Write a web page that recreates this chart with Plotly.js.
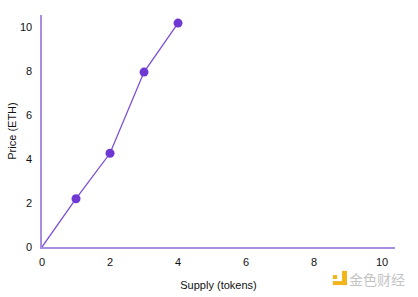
<!DOCTYPE html>
<html>
<head>
<meta charset="utf-8">
<script src="https://cdn.plot.ly/plotly-3.0.1.min.js"></script>
<style>html,body{margin:0;padding:0;background:#fff;}#chart{width:418px;height:297px;}</style>
</head>
<body>
<div id="chart"></div>
<script>
var supply = [0, 1, 2, 3, 4];
var price = [0, 2.2, 4.27, 7.97, 10.2];
var markerSizes = [0, 9, 9, 9, 9];
var tickVals = [0, 2, 4, 6, 8, 10];
var tickText = ['0', '2', '4', '6', '8', '10'];
var xTitle = 'Supply (tokens)';
var yTitle = 'Price (ETH)';
var watermark = '金色财经';

var trace = {
  x: supply, y: price, type: 'scatter', mode: 'lines+markers',
  line: {color: '#7d4fd8', width: 1.3},
  marker: {color: '#7038d2', size: markerSizes, opacity: 1, line: {width: 0}},
  hoverinfo: 'none', cliponaxis: false
};

var axisCommon = {
  showgrid: false, zeroline: false, showline: true,
  linecolor: '#a88ee0', linewidth: 1.6,
  ticks: '', tickvals: tickVals, ticktext: tickText,
  tickfont: {family: 'Liberation Sans, Arial, sans-serif', size: 11, color: '#111'}
};

var layout = {
  width: 418, height: 297,
  margin: {l: 42, r: 23, t: 15, b: 50},
  paper_bgcolor: '#fff', plot_bgcolor: '#fff',
  showlegend: false,
  xaxis: Object.assign({}, axisCommon, {
    range: [0, 10.38],
    ticklabelstandoff: 4,
    title: {text: xTitle, font: {family: 'Liberation Sans, Arial, sans-serif', size: 11, color: '#111'}, standoff: 14}
  }),
  yaxis: Object.assign({}, axisCommon, {
    range: [0, 10.57],
    ticklabelstandoff: 6,
    title: {text: yTitle, font: {family: 'Liberation Sans, Arial, sans-serif', size: 11, color: '#111'}, standoff: 1}
  }),
  shapes: [
    {type: 'rect', xref: 'paper', yref: 'paper', x0: 0.850, x1: 0.864, y0: -0.164, y1: -0.103,
     fillcolor: '#f2b418', line: {width: 0}},
    {type: 'rect', xref: 'paper', yref: 'paper', x0: 0.824, x1: 0.864, y0: -0.164, y1: -0.147,
     fillcolor: '#f2b418', line: {width: 0}},
    {type: 'rect', xref: 'paper', yref: 'paper', x0: 0.824, x1: 0.836, y0: -0.138, y1: -0.121,
     fillcolor: '#f2b418', line: {width: 0}}
  ],
  annotations: [
    {text: watermark, xref: 'paper', yref: 'paper', x: 1.034, y: -0.138, xanchor: 'right', yanchor: 'middle',
     showarrow: false, font: {family: 'Noto Sans CJK SC', size: 14, color: '#c4c4c4'}}
  ]
};

Plotly.newPlot('chart', [trace], layout, {staticPlot: true, displayModeBar: false});
</script>
</body>
</html>
